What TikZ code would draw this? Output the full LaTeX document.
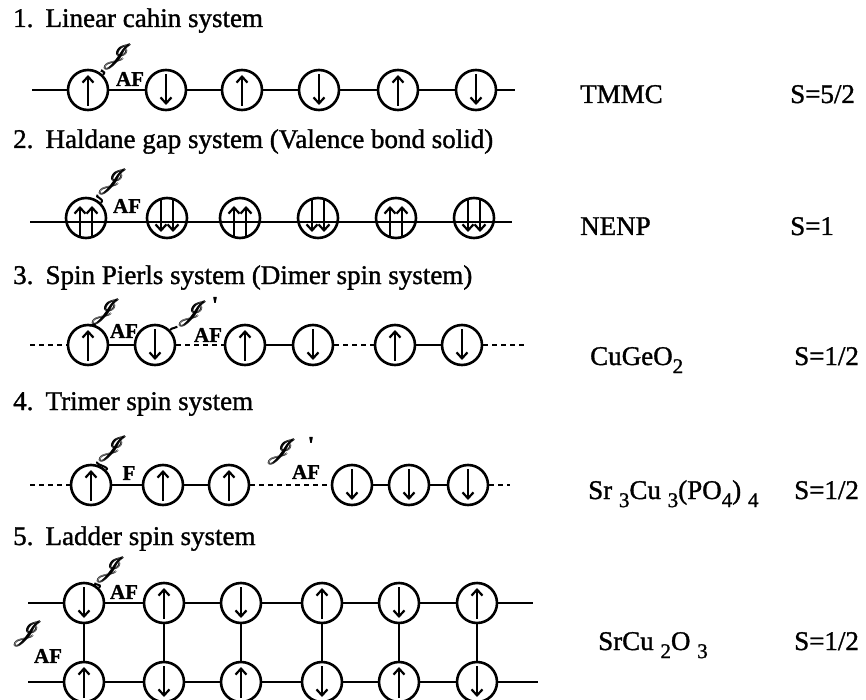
\documentclass[tikz,border=0pt]{standalone}
\usepackage{fontspec}
\setmainfont{Liberation Serif}
\newfontfamily\heavyserif{Liberation Serif}[FakeBold=1.2]
\usepackage{amsmath}
\usepackage{mathrsfs}
\usetikzlibrary{arrows.meta}
\newcommand\sbs[1]{\hspace{0.25em}\raisebox{-0.3em}{\fontsize{21}{21}\selectfont #1}}
\newcommand\sbn[1]{\raisebox{-0.3em}{\fontsize{21}{21}\selectfont #1}}
\begin{document}
\begin{tikzpicture}[x=1pt,y=-1pt,
 spinbase/.style={circle, draw, line width=2.6pt, minimum size=40pt, inner sep=0pt, fill=white},
 spinarrow/.style={line width=2.2pt, -{Straight Barb[length=6pt,width=11pt]}},
 spinup/.style={spinbase, path picture={\draw[spinarrow] ([yshift=-16pt]path picture bounding box.center) -- ([yshift=15pt]path picture bounding box.center);}},
 spindn/.style={spinbase, path picture={\draw[spinarrow] ([yshift=16pt]path picture bounding box.center) -- ([yshift=-15pt]path picture bounding box.center);}},
 spinuu/.style={spinbase, fill=none, path picture={\foreach \s in {-6,6} {\draw[spinarrow] ([xshift=\s pt,yshift=-20pt]path picture bounding box.center) -- ([xshift=\s pt,yshift=12pt]path picture bounding box.center);}}},
 spindd/.style={spinbase, fill=none, path picture={\foreach \s in {-6,6} {\draw[spinarrow] ([xshift=\s pt,yshift=18pt]path picture bounding box.center) -- ([xshift=\s pt,yshift=-14pt]path picture bounding box.center);}}},
 bond/.style={line width=2.6pt},
 weakbond/.style={line width=2.6pt, dash pattern=on 5pt off 4pt},
 tailline/.style={line width=2pt},
 titletext/.style={font=\heavyserif\fontsize{27}{30}\selectfont, anchor=base west, inner sep=0pt},
 jsym/.style={font=\fontsize{30}{30}\selectfont, inner sep=0pt},
 coup/.style={font=\heavyserif\bfseries\fontsize{21}{21}\selectfont, inner sep=0pt},
 primemark/.style={font=\heavyserif\bfseries\fontsize{24}{24}\selectfont, inner sep=0pt},
]
\useasboundingbox (0,0) rectangle (866,700);

% titles
\node[titletext] (t1) at (13,27) {1.\hspace{0.45em}Linear cahin system};
\node[titletext] (t2) at (13,148) {2.\hspace{0.45em}Haldane gap system (Valence bond solid)};
\node[titletext] (t3) at (13,284) {3.\hspace{0.45em}Spin Pierls system (Dimer spin system)};
\node[titletext] (t4) at (13,410) {4.\hspace{0.45em}Trimer spin system};
\node[titletext] (t5) at (13,545) {5.\hspace{0.45em}Ladder spin system};

% ---------- row 1 ----------
\coordinate (a0) at (32,90);
\coordinate (a7) at (515,90);
\node[spinup] (a1) at (88,90) {};
\node[spindn] (a2) at (166,90) {};
\node[spinup] (a3) at (242,90) {};
\node[spindn] (a4) at (319,90) {};
\node[spinup] (a5) at (398,90) {};
\node[spindn] (a6) at (476,90) {};
\foreach \i/\j in {0/1,1/2,2/3,3/4,4/5,5/6,6/7} \draw[bond] (a\i) -- (a\j);
\node[jsym] (ja) at (118,57) {$\pmb{\mathscr{J}}$};
\draw[tailline] (a1.45) .. controls +(4,-5) and +(-3,3) .. (ja.south west);
\node[coup] (afa) at (130,79) {AF};

% ---------- row 2 ----------
\coordinate (b0) at (30,222);
\coordinate (b7) at (512,222);
\node[spinuu] (b1) at (86,218) {};
\node[spindd] (b2) at (167,218) {};
\node[spinuu] (b3) at (240,218) {};
\node[spindd] (b4) at (318,218) {};
\node[spinuu] (b5) at (396,218) {};
\node[spindd] (b6) at (474,218) {};
\draw[bond] (b0) -- (b7);
\node[jsym] (jb) at (113,182) {$\pmb{\mathscr{J}}$};
\draw[tailline] (b1.45) .. controls +(4,-5) and +(-3,3) .. (jb.south west);
\node[coup] (afb) at (127,206) {AF};

% ---------- row 3 ----------
\coordinate (c0) at (30,345);
\coordinate (c7) at (527,345);
\node[spinup] (c1) at (88,345) {};
\node[spindn] (c2) at (155,345) {};
\node[spinup] (c3) at (245,345) {};
\node[spindn] (c4) at (313,345) {};
\node[spinup] (c5) at (395,345) {};
\node[spindn] (c6) at (462,345) {};
\draw[weakbond] (c0) -- (c1);
\draw[bond] (c1) -- (c2);
\draw[weakbond] (c2) -- (c3);
\draw[bond] (c3) -- (c4);
\draw[weakbond] (c4) -- (c5);
\draw[bond] (c5) -- (c6);
\draw[weakbond] (c6) -- (c7);
\node[jsym] (jc) at (106,312) {$\pmb{\mathscr{J}}$};
\draw[tailline] (c1.70) .. controls +(1,-2) and +(-2,2) .. (jc.south west);
\node[coup] (afc) at (124,331) {AF};
\node[jsym] (jc2) at (193,314) {$\pmb{\mathscr{J}}$};
\draw[tailline] (c2.45) .. controls +(3,-3) and +(-2,2) .. (jc2.south west);
\node[primemark] (pc) at (215,305) {\textquotesingle};
\node[coup] (afc2) at (208,335) {AF};

% ---------- row 4 ----------
\coordinate (d0) at (30,485);
\coordinate (d7) at (510,485);
\node[spinup] (d1) at (91,485) {};
\node[spinup] (d2) at (163,485) {};
\node[spinup] (d3) at (229,485) {};
\node[spindn] (d4) at (352,485) {};
\node[spindn] (d5) at (409,485) {};
\node[spindn] (d6) at (468,485) {};
\draw[weakbond] (d0) -- (d1);
\draw[bond] (d1) -- (d2);
\draw[bond] (d2) -- (d3);
\draw[weakbond] (d3) -- (d4);
\draw[bond] (d4) -- (d5);
\draw[bond] (d5) -- (d6);
\draw[weakbond] (d6) -- (d7);
\node[jsym] (jd) at (113,449) {$\pmb{\mathscr{J}}$};
\draw[tailline] (d1.45) .. controls +(5,-3) and +(-3,3) .. (jd.south west);
\node[coup] (fd) at (129,473) {F};
\node[jsym] (jd2) at (282,452) {$\pmb{\mathscr{J}}$};
\node[primemark] (pd) at (311,445) {\textquotesingle};
\node[coup] (afd) at (306,472) {AF};

% ---------- row 5 (ladder) ----------
\coordinate (e0) at (28,603);
\coordinate (e7) at (533,603);
\coordinate (f0) at (28,682);
\coordinate (f7) at (538,682);
\node[spindn] (e1) at (84,603) {};
\node[spinup] (e2) at (164,603) {};
\node[spindn] (e3) at (241,603) {};
\node[spinup] (e4) at (322,603) {};
\node[spindn] (e5) at (399,603) {};
\node[spinup] (e6) at (477,603) {};
\node[spinup] (f1) at (84,682) {};
\node[spindn] (f2) at (164,682) {};
\node[spinup] (f3) at (241,682) {};
\node[spindn] (f4) at (322,682) {};
\node[spinup] (f5) at (399,682) {};
\node[spindn] (f6) at (477,682) {};
\foreach \i/\j in {0/1,1/2,2/3,3/4,4/5,5/6,6/7} {\draw[bond] (e\i) -- (e\j); \draw[bond] (f\i) -- (f\j);}
\foreach \i in {1,...,6} \draw[bond] (e\i) -- (f\i);
\node[jsym] (je) at (111,570) {$\pmb{\mathscr{J}}$};
\draw[tailline] (e1.45) .. controls +(4,-5) and +(-3,3) .. (je.south west);
\node[coup] (afe) at (124,592) {AF};
\node[jsym] (jl) at (28,634) {$\pmb{\mathscr{J}}$};
\node[coup] (afl) at (48,656) {AF};

% ---------- materials ----------
\node[titletext] (m1) at (580,103) {TMMC};
\node[titletext] (s1) at (790,103) {S=5/2};
\node[titletext] (m2) at (580,235) {NENP};
\node[titletext] (s2) at (790,235) {S=1};
\node[titletext] (m3) at (590,365) {CuGeO\sbn{2}};
\node[titletext] (s3) at (794,365) {S=1/2};
\node[titletext] (m4) at (588,499) {Sr\sbs{3}Cu\sbs{3}(PO\sbn{4})\sbs{4}};
\node[titletext] (s4) at (794,499) {S=1/2};
\node[titletext] (m5) at (598,650) {SrCu\sbs{2}O\sbs{3}};
\node[titletext] (s5) at (794,650) {S=1/2};
\end{tikzpicture}
\end{document}
